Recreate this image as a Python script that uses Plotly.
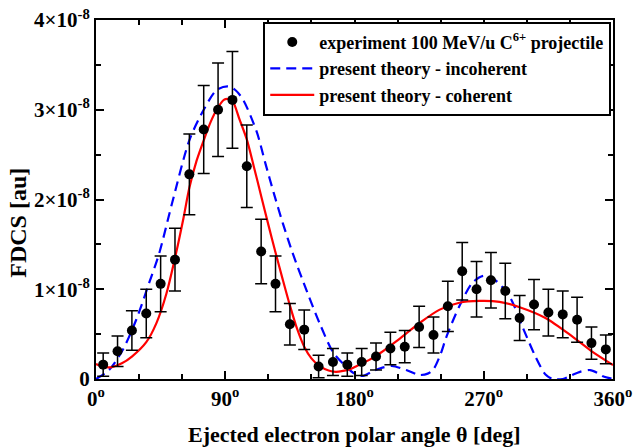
import plotly.graph_objects as go

# ---- data (FDCS in units of 1e-8 au) ----
theta_exp = [5, 15, 25, 35, 45, 55, 65, 75, 85, 95, 105, 115, 125, 135, 145, 155, 165, 175,
             185, 195, 205, 215, 225, 235, 245, 255, 265, 275, 285, 295, 305, 315, 325, 335, 345, 355]
fdcs_exp = [0.16, 0.31, 0.54, 0.73, 1.06, 1.33, 2.28, 2.78, 3.00, 3.11, 2.37, 1.42, 1.06, 0.61,
            0.55, 0.14, 0.19, 0.16, 0.19, 0.25, 0.34, 0.36, 0.58, 0.49, 0.81, 1.20, 1.00, 1.10,
            0.98, 0.68, 0.83, 0.74, 0.72, 0.66, 0.40, 0.33]
err_exp = [0.13, 0.17, 0.22, 0.27, 0.31, 0.35, 0.45, 0.49, 0.52, 0.54, 0.46, 0.36, 0.31, 0.23,
           0.22, 0.125, 0.15, 0.13, 0.15, 0.15, 0.18, 0.18, 0.23, 0.20, 0.28, 0.32, 0.31, 0.31,
           0.31, 0.25, 0.28, 0.26, 0.26, 0.25, 0.18, 0.16]

theta_coh = [0, 5, 10, 18, 25, 35, 42, 49, 56, 61, 65, 70, 75, 80, 84, 89, 92, 95, 100, 105, 110,
             115, 120, 125, 130, 135, 140, 145, 150, 156, 162, 167, 172, 177, 181, 190, 198, 209,
             225, 239, 253, 267, 281, 295, 313, 332, 346, 360]
fdcs_coh = [0.167, 0.137, 0.13, 0.175, 0.25, 0.41, 0.62, 0.95, 1.42, 1.80, 2.13, 2.43, 2.66, 2.87,
            3.00, 3.11, 3.12, 3.10, 2.89, 2.67, 2.36, 2.04, 1.72, 1.41, 1.11, 0.82, 0.56, 0.36,
            0.23, 0.14, 0.095, 0.08, 0.09, 0.11, 0.14, 0.21, 0.29, 0.42, 0.62, 0.77, 0.85, 0.87,
            0.86, 0.80, 0.68, 0.47, 0.30, 0.156]

theta_inc = [0, 9, 18.5, 28, 37, 44, 53, 65, 75, 84, 92, 97, 102.5, 112, 118, 124, 130, 137, 147,
             156, 165, 174, 180, 186, 192, 198, 206, 216, 225, 231, 235, 240, 244, 253, 262, 270,
             278, 288, 297, 306, 313, 318, 325, 331, 337, 344, 349, 353, 360]
fdcs_inc = [0.0, 0.10, 0.32, 0.66, 1.07, 1.40, 1.96, 2.66, 3.00, 3.22, 3.26, 3.22, 3.11, 2.75,
            2.40, 2.06, 1.74, 1.40, 0.97, 0.61, 0.30, 0.14, 0.06, 0.035, 0.08, 0.12, 0.145, 0.10,
            0.045, 0.06, 0.11, 0.28, 0.47, 0.81, 1.07, 1.15, 1.10, 0.92, 0.58, 0.25, 0.05, 0.0,
            0.0, 0.04, 0.08, 0.10, 0.07, 0.03, 0.0]

x_tickvals = [0, 90, 180, 270, 360]
x_ticktext = ["0<sup>o</sup>", "90<sup>o</sup>", "180<sup>o</sup>", "270<sup>o</sup>", "360<sup>o</sup>"]
y_tickvals = [0, 1, 2, 3, 4]
y_ticktext = ["0", "1×10<sup>-8</sup>", "2×10<sup>-8</sup>", "3×10<sup>-8</sup>", "4×10<sup>-8</sup>"]

FONT = "Liberation Serif"

fig = go.Figure()
fig.add_trace(go.Scatter(
    x=theta_inc, y=fdcs_inc, mode="lines", name="present theory - incoherent",
    line=dict(color="#0000ff", width=2.2, dash="10px,6px", shape="spline", smoothing=0.8),
    legendrank=2))
fig.add_trace(go.Scatter(
    x=theta_coh, y=fdcs_coh, mode="lines", name="present theory - coherent",
    line=dict(color="#ff0000", width=2.2, shape="spline", smoothing=0.8),
    legendrank=3))
fig.add_trace(go.Scatter(
    x=theta_exp, y=fdcs_exp, mode="markers", name="experiment 100 MeV/u C<sup>6+</sup> projectile",
    marker=dict(color="black", size=10),
    error_y=dict(type="data", array=err_exp, visible=True, color="black", thickness=1.5, width=6),
    legendrank=1, cliponaxis=True))

axis_common = dict(showline=True, linecolor="black", linewidth=2, mirror="ticks",
                   ticks="inside", tickcolor="black", tickwidth=1.5, ticklen=8,
                   showgrid=False, zeroline=False, automargin=False,
                   tickfont=dict(family=FONT, size=21, color="black", weight="bold"))

fig.update_xaxes(range=[0, 360], tickvals=x_tickvals, ticktext=x_ticktext,
                 minor=dict(tickvals=[30, 60, 120, 150, 210, 240, 300, 330], ticks="inside",
                            ticklen=5, tickcolor="black", tickwidth=1.5),
                 **axis_common)
fig.update_yaxes(range=[0, 4], tickvals=y_tickvals, ticktext=y_ticktext,
                 minor=dict(tickvals=[0.5, 1.5, 2.5, 3.5], ticks="inside",
                            ticklen=5, tickcolor="black", tickwidth=1.5),
                 **axis_common)

fig.add_annotation(text="Ejected electron polar angle θ [deg]", xref="paper", yref="paper",
                   x=0.5, y=-0.155, xanchor="center", yanchor="middle", showarrow=False,
                   font=dict(family=FONT, size=22, color="black", weight="bold"))
fig.add_annotation(text="FDCS [au]", xref="paper", yref="paper", textangle=-90,
                   x=-0.151, y=0.435, xanchor="center", yanchor="middle", showarrow=False,
                   font=dict(family=FONT, size=24, color="black", weight="bold"))

fig.update_layout(
    width=634, height=448,
    margin=dict(l=96, r=20.5, t=20, b=69),
    plot_bgcolor="white", paper_bgcolor="white",
    legend=dict(x=0.9966, xanchor="right", y=0.995, yanchor="top",
                bgcolor="white", bordercolor="black", borderwidth=2,
                font=dict(family=FONT, size=18, color="black", weight="bold"),
                tracegroupgap=0, itemwidth=44),
)

fig.write_html("out.html", config={"displayModeBar": False},
               post_script="document.body.style.margin='0px';document.body.style.overflow='hidden';")
